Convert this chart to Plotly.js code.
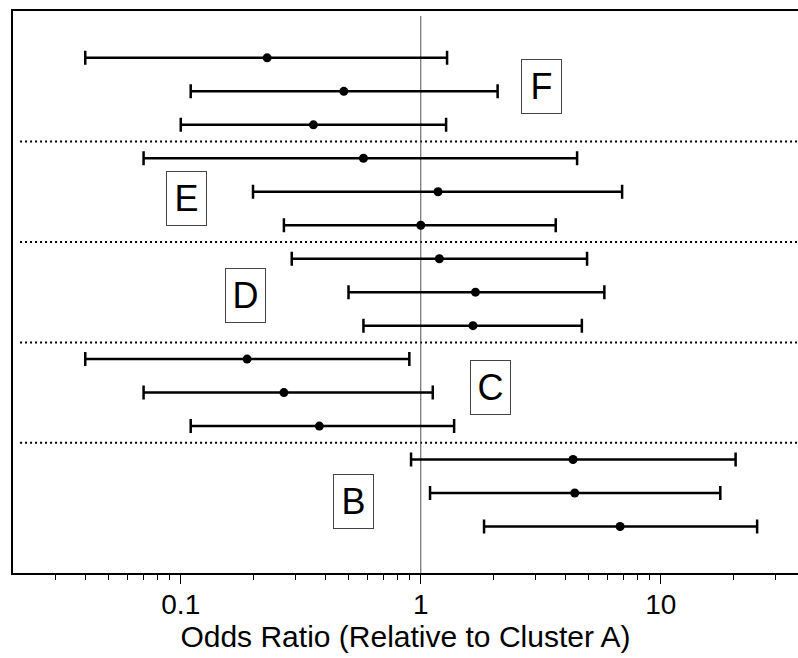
<!DOCTYPE html>
<html>
<head>
<meta charset="utf-8">
<script src="https://cdn.plot.ly/plotly-3.0.1.min.js"></script>
<style>html,body{margin:0;padding:0;background:#fff;}#chart{width:798px;height:658px;}</style>
</head>
<body>
<div id="chart"></div>
<script>
// Rows listed top to bottom (groups F, E, D, C, B; three estimates each)
var groups = ["F", "E", "D", "C", "B"];
var oddsRatio = [0.229, 0.478, 0.357, 0.577, 1.18, 1.0, 1.195, 1.69, 1.65, 0.189, 0.269, 0.378, 4.31, 4.38, 6.77];
var lowerCI   = [0.040, 0.110, 0.100, 0.070, 0.200, 0.269, 0.290, 0.500, 0.577, 0.040, 0.070, 0.110, 0.911, 1.093, 1.835];
var upperCI   = [1.287, 2.09, 1.275, 4.48, 6.90, 3.65, 4.93, 5.82, 4.69, 0.896, 1.122, 1.377, 20.5, 17.7, 25.2];
var rowPos    = [15, 14, 13, 12, 11, 10, 9, 8, 7, 6, 5, 4, 3, 2, 1];
var separators = [12.5, 9.5, 6.5, 3.5];
var majorTicks = [0.1, 1, 10];
var majorTickText = ["0.1", "1", "10"];
var minorTicks = [0.03, 0.04, 0.05, 0.06, 0.07, 0.08, 0.09, 0.2, 0.3, 0.4, 0.5, 0.6, 0.7, 0.8, 0.9, 2, 3, 4, 5, 6, 7, 8, 9, 20, 30];

var plus = oddsRatio.map(function (v, i) { return upperCI[i] - v; });
var minus = oddsRatio.map(function (v, i) { return v - lowerCI[i]; });

var traces = [];
// separators
separators.forEach(function (s) {
  traces.push({
    x: [0.0214, 60], y: [s, s], mode: "lines", type: "scatter",
    line: { color: "#000", width: 2, dash: "2px,3px" }, hoverinfo: "skip", showlegend: false
  });
});
// reference line at OR = 1
traces.push({
  x: [1, 1], y: [-0.39, 16.25], mode: "lines", type: "scatter",
  line: { color: "#555", width: 1 }, hoverinfo: "skip", showlegend: false
});
traces.push({
  x: oddsRatio, y: rowPos, type: "scatter", mode: "markers",
  marker: { color: "#000", size: 9 },
  error_x: { type: "data", symmetric: false, array: plus, arrayminus: minus, color: "#000", thickness: 2.5, width: 7 },
  showlegend: false
});

var labelPos = { F: [0.6734, 0.8653], E: [0.2207, 0.6662], D: [0.2964, 0.4938], C: [0.6084, 0.3294], B: [0.4333, 0.1276] };
var annotations = groups.map(function (g) {
  return {
    text: g, xref: "paper", yref: "paper", x: labelPos[g][0], y: labelPos[g][1],
    xanchor: "center", yanchor: "middle", showarrow: false,
    font: { family: "Liberation Sans, Arial, sans-serif", size: 36, color: "#000" },
    bordercolor: "#444", borderwidth: 1, borderpad: 2, width: 35, height: 49, bgcolor: "rgba(0,0,0,0)"
  };
});

var layout = {
  width: 798, height: 658,
  margin: { l: 12.7, r: 0, t: 10.7, b: 84.7 },
  paper_bgcolor: "#fff", plot_bgcolor: "#fff",
  font: { family: "Liberation Sans, Arial, sans-serif", color: "#000" },
  xaxis: {
    type: "log", range: [Math.log10(0.02), Math.log10(37.3)],
    showgrid: false, zeroline: false,
    showline: true, linecolor: "#000", linewidth: 2, mirror: true,
    ticks: "outside", ticklen: 9, tickwidth: 1, tickcolor: "#000",
    ticklabelstandoff: -4,
    tickmode: "array", tickvals: majorTicks, ticktext: majorTickText,
    tickfont: { size: 28, color: "#000" },
    minor: { tickmode: "array", tickvals: minorTicks, ticks: "outside", ticklen: 5, tickwidth: 1, tickcolor: "#000", showgrid: false },
    title: { text: "Odds Ratio (Relative to Cluster A)", font: { size: 30, color: "#000" }, standoff: 2 }
  },
  yaxis: {
    range: [-0.39, 16.40], showgrid: false, zeroline: false,
    showline: true, linecolor: "#000", linewidth: 2, mirror: false,
    showticklabels: false, ticks: ""
  },
  annotations: annotations
};

Plotly.newPlot("chart", traces, layout, { staticPlot: true, displayModeBar: false });
</script>
</body>
</html>
